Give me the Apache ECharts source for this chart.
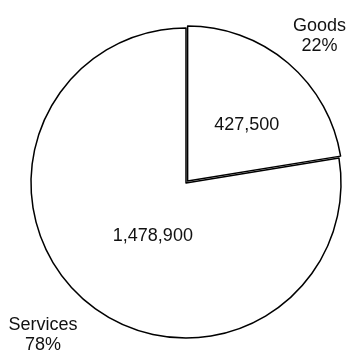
<!DOCTYPE html>
<html>
<head>
<meta charset="utf-8">
<style>
  html, body { margin: 0; padding: 0; background: #ffffff; }
  #chart { width: 346px; height: 354px; }
</style>
<script src="https://cdn.jsdelivr.net/npm/echarts@6/dist/echarts.min.js"></script>
</head>
<body>
<div id="chart"></div>
<script>
// Output split into goods and services
const categories = ['Goods', 'Services'];
const values = [427500, 1478900];
const percentLabels = ['22%', '78%'];

const FONT = '"Liberation Sans", Arial, sans-serif';
const fmt = n => n.toLocaleString('en-US');

const chart = echarts.init(document.getElementById('chart'), null, { renderer: 'canvas' });

const sliceData = categories.map((name, i) => ({
  name,
  value: values[i],
  selected: i === 0
}));

// value labels nudged within each slice
const innerNudge = [[7, 5], [19, -8]];
// outer caption distance beyond the rim, plus a small shift
const outerLen = [45, 52];
const outerNudge = [[4, 5], [-9, -6]];

chart.setOption({
  backgroundColor: '#ffffff',
  animation: false,
  series: [
    {
      type: 'pie',
      center: [186, 183],
      radius: [0, 155],
      startAngle: 90,
      clockwise: true,
      selectedMode: 'multiple',
      selectedOffset: 2.5,
      itemStyle: { color: '#ffffff', borderColor: '#000000', borderWidth: 1.5 },
      emphasis: { disabled: true },
      label: {
        position: 'inside',
        formatter: p => fmt(p.value),
        color: '#111111',
        fontFamily: FONT,
        fontSize: 18
      },
      labelLayout: p => ({
        dx: innerNudge[p.dataIndex][0],
        dy: innerNudge[p.dataIndex][1]
      }),
      data: sliceData
    },
    {
      // category / share captions outside the rim
      type: 'pie',
      center: [186, 183],
      radius: [0, 155],
      startAngle: 90,
      clockwise: true,
      silent: true,
      itemStyle: { color: 'rgba(0,0,0,0)', borderWidth: 0 },
      emphasis: { disabled: true },
      label: {
        position: 'outside',
        formatter: p => p.name + '\n' + percentLabels[p.dataIndex],
        color: '#111111',
        fontFamily: FONT,
        fontSize: 18,
        lineHeight: 20,
        align: 'center',
        overflow: 'none'
      },
      labelLine: { show: false, length2: 0 },
      labelLayout: p => {
        const pts = p.labelLinePoints;
        const a = pts[0], b = pts[1];
        const dx = b[0] - a[0], dy = b[1] - a[1];
        const d = Math.hypot(dx, dy) || 1;
        const L = outerLen[p.dataIndex];
        return {
          x: a[0] + dx / d * L + outerNudge[p.dataIndex][0],
          y: a[1] + dy / d * L + outerNudge[p.dataIndex][1],
          align: 'center',
          verticalAlign: 'middle'
        };
      },
      data: categories.map((name, i) => ({ name, value: values[i] }))
    }
  ]
});
</script>
</body>
</html>
